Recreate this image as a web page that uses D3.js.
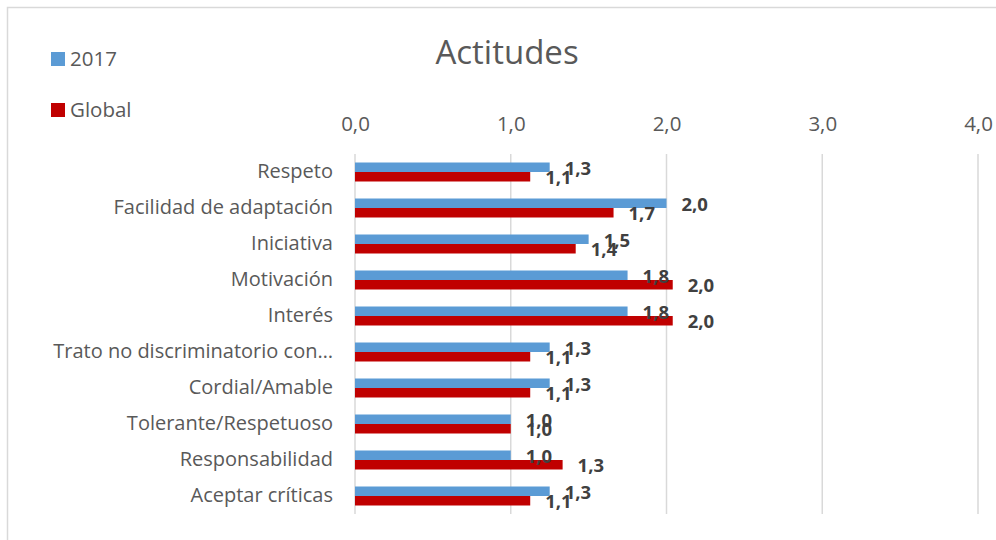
<!DOCTYPE html>
<html><head><meta charset="utf-8">
<script src="https://cdn.jsdelivr.net/npm/d3@7/dist/d3.min.js"></script>
<style>body{margin:0;background:#fff}svg{display:block}</style>
</head><body>
<script>
const categories = ["Respeto","Facilidad de adaptación","Iniciativa","Motivación","Interés","Trato no discriminatorio con…","Cordial/Amable","Tolerante/Respetuoso","Responsabilidad","Aceptar críticas"];
const values2017 = [1.25,2.0,1.5,1.75,1.75,1.25,1.25,1.0,1.0,1.25];
const valuesGlobal = [1.125,1.66,1.417,2.04,2.04,1.125,1.125,1.0,1.333,1.125];
const seriesNames = ["2017","Global"];
const xTicks = [0,1,2,3,4];
const colors = ["#5B9BD5","#C00000"];

const W=996,H=540;
const font="'Open Sans', 'Noto Sans', sans-serif";
const svg=d3.select("body").append("svg").attr("width",W).attr("height",H);
svg.append("rect").attr("x",7.5).attr("y",7.5).attr("width",W+10).attr("height",H+10).attr("fill","#fff").attr("stroke","#d9d9d9").attr("stroke-width",1.5);

const x=d3.scaleLinear().domain([0,4]).range([355,978]);
const y=d3.scaleBand().domain(categories).range([154,514]).paddingInner(0).paddingOuter(0);
const inner=d3.scaleBand().domain(seriesNames).range([0,19]);
const barOff=(y.bandwidth()-19)/2;

// gridlines
svg.append("g").selectAll("line").data(xTicks).join("line")
  .attr("x1",d=>x(d)).attr("x2",d=>x(d)).attr("y1",154).attr("y2",514)
  .attr("stroke","#d9d9d9").attr("stroke-width",1.5);

// top axis labels
const axis=d3.axisTop(x).tickValues(xTicks).tickSize(0).tickFormat(d=>d3.format(".1f")(d).replace(".",","));
const ag=svg.append("g").attr("transform","translate(0,134)").call(axis);
ag.select(".domain").remove();
ag.selectAll("text").attr("font-family",font).attr("font-size",20.5).attr("fill","#595959");

// category labels
const cg=svg.append("g").attr("transform","translate(333,0)").call(d3.axisLeft(y).tickSize(0).tickPadding(0));
cg.select(".domain").remove();
cg.selectAll("text").attr("font-family",font).attr("font-size",20).attr("fill","#595959").attr("dy","0.32em");

const series=[values2017,valuesGlobal];
series.forEach((vals,si)=>{
  const g=svg.append("g");
  g.selectAll("rect").data(vals).join("rect")
    .attr("x",x(0)).attr("y",(d,i)=>y(categories[i])+barOff+inner(seriesNames[si]))
    .attr("width",d=>x(d)-x(0)).attr("height",inner.bandwidth())
    .attr("fill",colors[si]);
});
series.forEach((vals,si)=>{
  svg.append("g").selectAll("text").data(vals).join("text")
    .attr("x",d=>x(d)+15).attr("y",(d,i)=>y(categories[i])+barOff+inner(seriesNames[si])+inner.bandwidth()/2+1)
    .attr("dy","0.35em").attr("font-family",font).attr("font-size",18.5).attr("font-weight","bold").attr("fill","#404040")
    .text(d=>d.toFixed(1).replace(".",","));
});

// title
svg.append("text").attr("x",507).attr("y",52).attr("dy","0.35em").attr("text-anchor","middle")
  .attr("font-family",font).attr("font-size",33).attr("fill","#595959").text("Actitudes");

// legend
const lg=svg.append("g").selectAll("g").data(seriesNames).join("g")
  .attr("transform",(d,i)=>`translate(51,${52+i*51})`);
lg.append("rect").attr("width",14).attr("height",14).attr("fill",(d,i)=>colors[i]);
lg.append("text").attr("x",19).attr("y",7).attr("dy","0.35em").attr("font-family",font).attr("font-size",20.5).attr("fill","#595959").text(d=>d);
</script>
</body></html>
